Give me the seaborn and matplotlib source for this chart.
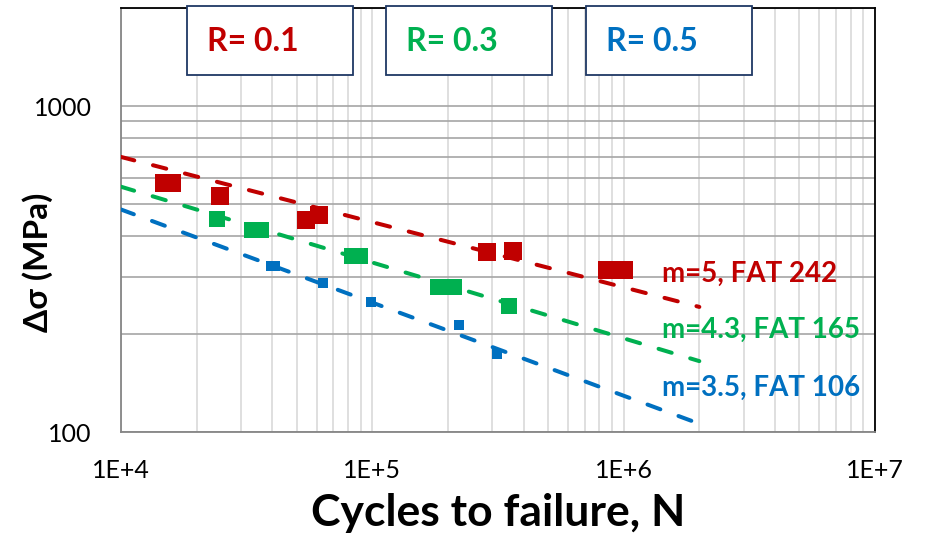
import numpy as np
import pandas as pd
import matplotlib
matplotlib.use("Agg")
import matplotlib.pyplot as plt
from matplotlib.patches import Rectangle
from matplotlib.ticker import FixedLocator, FixedFormatter, NullFormatter
import seaborn as sns

# ---- test data: stress range vs. cycles to failure ----
r01_N = [1.48e4, 1.59e4, 2.47e4, 5.43e4, 6.12e4, 2.85e5, 3.64e5, 8.61e5, 1.006e6]
r01_S = [580, 580, 530, 447, 463, 357, 359, 314, 314]
r03_N = [2.41e4, 3.32e4, 3.60e4, 8.27e4, 8.90e4, 1.82e5, 2.12e5, 3.51e5]
r03_S = [450, 416, 416, 347, 347, 278, 278, 243]
r05_N = [3.95e4, 4.10e4, 6.35e4, 9.85e4, 2.22e5, 3.12e5]
r05_S = [323, 323, 286, 250, 213, 173]

# ---- S-N design curves: slope m and FAT class (stress range at 2e6 cycles) ----
ratios = ["R= 0.1", "R= 0.3", "R= 0.5"]
slopes = [5, 4.3, 3.5]
fat_classes = [242, 165, 106]
curve_N = [1e4, 2e6]

x_ticks = [1e4, 1e5, 1e6, 1e7]
x_tick_labels = ["1E+4", "1E+5", "1E+6", "1E+7"]
y_ticks = [100, 1000]
y_tick_labels = ["100", "1000"]

colors = ["#C00000", "#00B050", "#0070C0"]
marker_px = [18, 16, 10]

sns.set_style("white")
plt.rcParams["font.family"] = ["Lato", "DejaVu Sans"]
plt.rcParams["text.color"] = "black"

W, H = 927, 534
DPI = 100
fig = plt.figure(figsize=(W / DPI, H / DPI), dpi=DPI)


def fx(px):
    return px / W


def fy(py):
    return 1 - py / H


ax = fig.add_axes([fx(121), fy(432), fx(875) - fx(121), fy(8) - fy(432)])
ax.set_xscale("log")
ax.set_yscale("log")
ax.set_xlim(1e4, 1e7)
ax.set_ylim(100, 2000)

# design curves
for m, fat, c in zip(slopes, fat_classes, colors):
    S = [fat * (2e6 / n) ** (1.0 / m) for n in curve_N]
    df = pd.DataFrame({"N": curve_N, "S": S})
    sns.lineplot(data=df, x="N", y="S", ax=ax, color=c, linewidth=2.9,
                 linestyle=(0, (3.4, 4.8)), dash_capstyle="round",
                 estimator=None, sort=False, zorder=3)

# test points
series = [(r01_N, r01_S), (r03_N, r03_S), (r05_N, r05_S)]
for (n, s), c, mp in zip(series, colors, marker_px):
    df = pd.DataFrame({"N": n, "S": s})
    size_pt = mp * 72 / DPI
    sns.scatterplot(data=df, x="N", y="S", ax=ax, color=c, marker="s",
                    s=size_pt ** 2, linewidth=0, zorder=4)

# ticks
ax.xaxis.set_major_locator(FixedLocator(x_ticks))
ax.xaxis.set_major_formatter(FixedFormatter(x_tick_labels))
ax.xaxis.set_minor_formatter(NullFormatter())
ax.yaxis.set_major_locator(FixedLocator(y_ticks))
ax.yaxis.set_major_formatter(FixedFormatter(y_tick_labels))
ax.yaxis.set_minor_formatter(NullFormatter())

axis_grey = "#868686"
ax.tick_params(axis="x", which="major", direction="inout", length=15, width=1.1,
               color=axis_grey, labelsize=18, pad=12, labelcolor="black")
ax.tick_params(axis="x", which="minor", direction="in", length=8, width=1.0,
               color=axis_grey)
ax.tick_params(axis="y", which="both", direction="inout", length=14, width=1.1,
               color=axis_grey, labelsize=18, pad=14, labelcolor="black")

ax.grid(True, which="both", axis="x", color="#D9D9D9", linewidth=1.2, zorder=0)
ax.grid(True, which="both", axis="y", color="#A6A6A6", linewidth=1.2, zorder=0)
ax.set_axisbelow(True)

for side in ["left", "bottom"]:
    ax.spines[side].set_color(axis_grey)
    ax.spines[side].set_linewidth(1.3)
for side in ["top", "right"]:
    ax.spines[side].set_color("black")
    ax.spines[side].set_linewidth(1.3)

ax.set_xlabel("Cycles to failure, N", fontsize=32, fontweight="bold",
              va="baseline", color="black")
ax.set_ylabel("Δσ (MPa)", fontsize=24, fontweight="bold", va="center",
              color="black")
ax.xaxis.set_label_coords((498 - 121) / 754, (432 - 526) / 424)
ax.yaxis.set_label_coords((38 - 121) / 754, (432 - 262) / 424)

# stress-ratio boxes
box_left = [187, 386, 586]
box_w, box_top, box_bot = 166, 6, 75
for lab, c, bx in zip(ratios, colors, box_left):
    rect = Rectangle((fx(bx), fy(box_bot)), fx(box_w), fy(box_top) - fy(box_bot),
                     transform=fig.transFigure, facecolor="white",
                     edgecolor="#1F3864", linewidth=1.3, zorder=5)
    fig.add_artist(rect)
    fig.text(fx(bx + 20), fy(51), lab, color=c, fontsize=23, fontweight="bold",
             ha="left", va="baseline", zorder=6)

# curve annotations
ann_base = [282, 338, 396]
for m, fat, c, by in zip(slopes, fat_classes, colors, ann_base):
    fig.text(fx(662), fy(by), f"m={m:g}, FAT {fat}", color=c, fontsize=20,
             fontweight="bold", ha="left", va="baseline", zorder=6)

fig.savefig("out.png", dpi=DPI)
